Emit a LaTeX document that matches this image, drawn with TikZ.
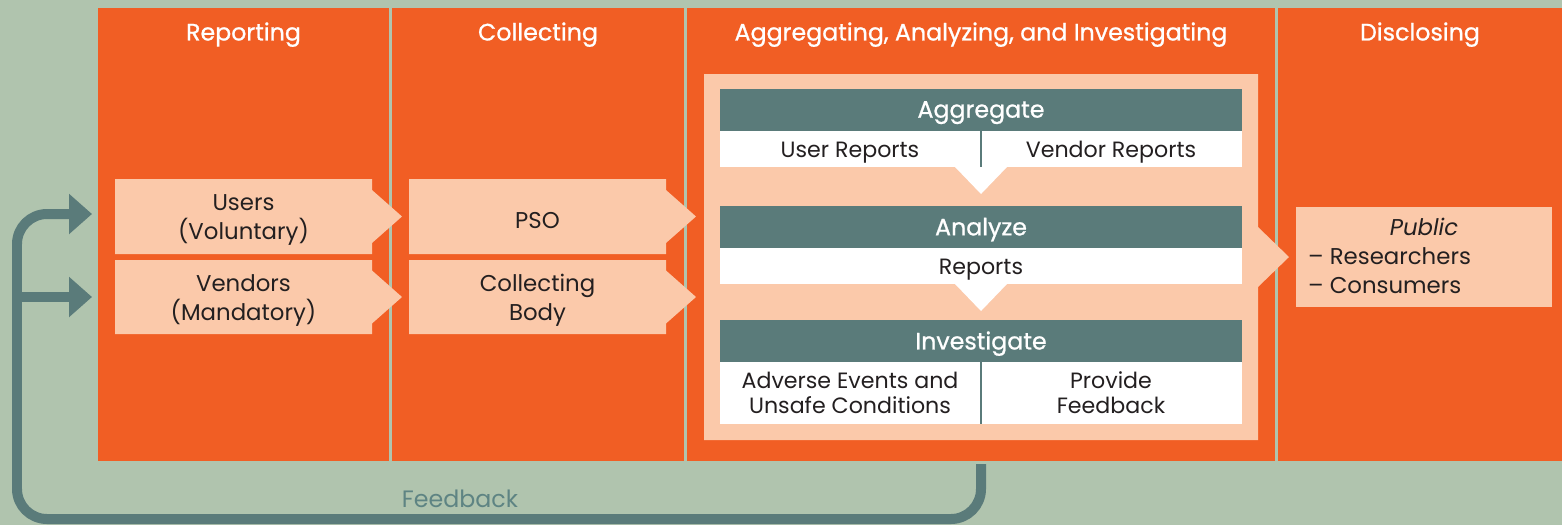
\documentclass[tikz,border=0pt]{standalone}
\usepackage{fontspec}
\setmainfont{Poppins}
\newfontfamily\medfont{Poppins}[FakeBold=0.9]
\usetikzlibrary{arrows.meta, positioning}
\definecolor{sageBg}{HTML}{B0C4AE}
\definecolor{orangeCol}{HTML}{F15E24}
\definecolor{peach}{HTML}{FBC9AA}
\definecolor{slate}{HTML}{5A7B7A}
\definecolor{fbText}{HTML}{5E8483}
\definecolor{ink}{HTML}{231F20}

\begin{document}
\begin{tikzpicture}[x=0.02cm, y=-0.02cm,
  header/.style={text=white, yshift=-1.5pt, font=\fontsize{13.5}{16}\selectfont\medfont},
  boxtext/.style={text=ink, align=center, font=\fontsize{13}{16.5}\selectfont},
  celltext/.style={text=ink, align=center, font=\fontsize{12.6}{14.2}\selectfont},
  lower/.style={yshift=-2pt},
  fb/.style={draw=slate, line width=0.2cm, rounded corners=0.6cm, -{Triangle[length=0.46cm, width=0.78cm]}}
]

% background
\fill[sageBg] (0,0) rectangle (1562,525);
\useasboundingbox (0,0) rectangle (1562,525);

% the four columns
\foreach \nm/\xa/\xb/\txt in {colRep/98/389/Reporting, colCol/392/684/Collecting,
    colAgg/687/1275/{Aggregating, Analyzing, and Investigating}, colDis/1278/1562/Disclosing} {
  \fill[orangeCol] (\xa,8) rectangle (\xb,461);
  \node[header] (\nm) at ({(\xa+\xb)/2},32) {\txt};
  \coordinate (\nm-bot) at ({(\xa+\xb)/2},464);
}

% arrow boxes
\foreach \nm/\xa/\ya/\xb/\yb/\txt in {users/115/179/372/254/{Users\\(Voluntary)},
    vendors/115/260/372/334/{Vendors\\(Mandatory)},
    pso/409/179/666/254/{PSO},
    body/409/260/666/334/{Collecting\\Body}} {
  \fill[peach] (\xa,\ya) -- (\xb,\ya) -- (\xb,{(\ya+\yb)/2-26.5}) -- ++(30,26.5)
    -- ++(-30,26.5) -- (\xb,\yb) -- (\xa,\yb) -- cycle;
  \node[boxtext, lower] (\nm) at ({(\xa+\xb)/2},{(\ya+\yb)/2}) {\txt};
}

% panel
\fill[peach] (704,74) -- (1258,74) -- (1258,227) -- (1289,257) -- (1258,287)
  -- (1258,440) -- (704,440) -- cycle;

\foreach \nm/\ya/\yb/\yc/\txt in {agg/89/131/167/Aggregate, ana/206/248/284/Analyze,
    inv/320/362/424/Investigate} {
  \fill[slate] (720,\ya) rectangle (1242,\yb);
  \fill[white] (720,\yb) rectangle (1242,\yc);
  \node[header] (\nm) at (981,{(\ya+\yb)/2}) {\txt};
}
\fill[white] (955,167) -- (1007,167) -- (981,194) -- cycle;
\fill[white] (955,284) -- (1007,284) -- (981,311) -- cycle;
\draw[slate, line width=0.04cm] (981,131) -- (981,167);
\draw[slate, line width=0.04cm] (981,362) -- (981,424);

\node[celltext, lower] (userRep) at (850,149) {User Reports};
\node[celltext, lower] (vendRep) at (1111,149) {Vendor Reports};
\node[celltext, lower] (reports) at (981,266) {Reports};
\node[celltext] (events) at (850,393) {Adverse Events and\\Unsafe Conditions};
\node[celltext] (provide) at (1111,393) {Provide\\Feedback};

% public
\fill[peach] (1296,207) rectangle (1552,307);
\node[boxtext] (pubHead) at (1424,227) {\itshape Public};
\node[boxtext, anchor=west, align=left] (pubList) at (1302,271) {– Researchers\\– Consumers};

% feedback loop
\coordinate (inUsers) at (92,214);
\coordinate (inVendors) at (92,297);
\coordinate (loopBL) at (17,519);
\draw[fb] (colAgg-bot) |- (loopBL) |- (inUsers);
\draw[fb] (loopBL |- inVendors) -- (inVendors);
\node[text=fbText, font=\fontsize{13.5}{16}\selectfont] (fbLabel) at (460,499) {Feedback};
\end{tikzpicture}
\end{document}
